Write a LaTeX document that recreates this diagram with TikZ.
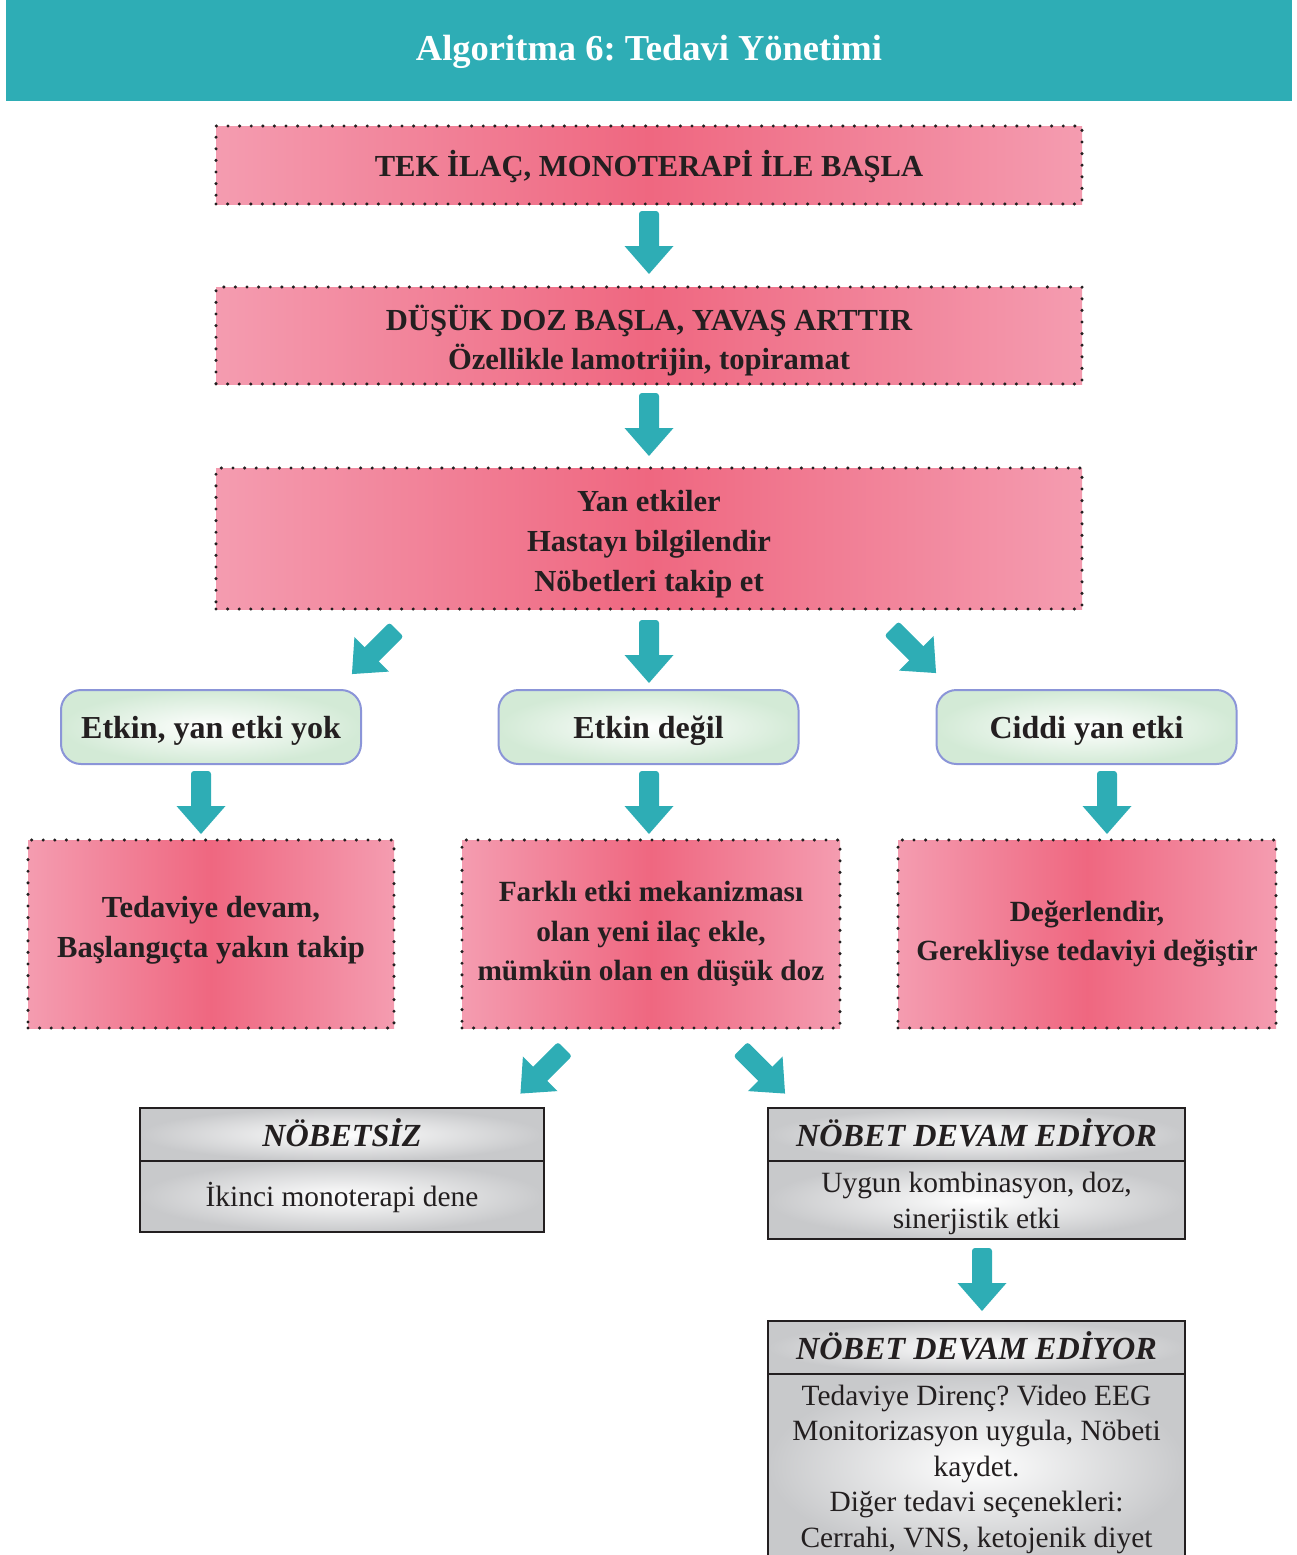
\documentclass[tikz,border=0pt]{standalone}
\usepackage{fontspec}
\setmainfont{Liberation Serif}
\frenchspacing
\definecolor{teal1}{HTML}{2EADB5}
\definecolor{pinkL}{HTML}{F49CB0}
\definecolor{pinkD}{HTML}{EF6780}
\definecolor{greenO}{HTML}{D3EAD6}
\definecolor{blueB}{HTML}{8B95D8}
\definecolor{grayO}{HTML}{C8C9CB}
\definecolor{ink}{HTML}{231F20}
\tikzset{
 pinkbox/.style={draw=ink, line width=3.4pt, dash pattern=on 0pt off 11.6pt, line cap=round,
   left color=pinkL, right color=pinkL, middle color=pinkD, inner sep=0pt},
 pinktext/.style={inner sep=0pt, align=center, text=ink, font=\bfseries\fontsize{30.6}{39.8}\selectfont},
 pinktextb/.style={pinktext, font=\bfseries\fontsize{29.3}{39.5}\selectfont},
 greenbox/.style={draw=blueB, line width=2pt, rounded corners=20pt, inner color=white,
   outer color=greenO, minimum width=300pt, minimum height=74pt, inner sep=0pt},
 greentext/.style={inner sep=0pt, text=ink, font=\bfseries\fontsize{32}{38}\selectfont},
 graybox/.style={draw=ink, line width=2.8pt, inner color=white, outer color=grayO, inner sep=0pt},
 grayhead/.style={inner sep=0pt, text=ink, font=\bfseries\itshape\fontsize{32.2}{36}\selectfont},
 graybody/.style={inner sep=0pt, text=ink, align=center, font=\fontsize{29.4}{35.5}\selectfont},
 pics/barrow/.style={code={
   \fill[teal1, rounded corners=3pt] (0,-10) rectangle (40,10);
   \fill[teal1] (35,-24.5) -- (63,0) -- (35,24.5) -- cycle;}}
}
\begin{document}
\begin{tikzpicture}[x=1pt,y=1pt]
\useasboundingbox (0,0) rectangle (1297,-1555);
\clip (0,0) rectangle (1297,-1555);
% header
\fill[teal1] (6,0) rectangle (1292,-101);
\node[text=white, inner sep=0pt, font=\bfseries\fontsize{36.5}{40}\selectfont] (title) at (649,-52) {Algoritma 6: Tedavi Yönetimi};
% pink boxes top
\node[pinkbox, minimum width=866pt, minimum height=78pt] (b1) at (649,-165) {};
\node[pinktext, yshift=-2pt] (b1t) at (b1.center) {TEK İLAÇ, MONOTERAPİ İLE BAŞLA};
\node[pinkbox, minimum width=866pt, minimum height=97pt] (b2) at (649,-335.5) {};
\node[pinktext, yshift=-5pt] (b2t) at (b2.center) {DÜŞÜK DOZ BAŞLA, YAVAŞ ARTTIR\\Özellikle lamotrijin, topiramat};
\node[pinkbox, minimum width=866pt, minimum height=141pt] (b3) at (649,-538.5) {};
\node[pinktext, yshift=-5.5pt] (b3t) at (b3.center) {Yan etkiler\\Hastayı bilgilendir\\Nöbetleri takip et};
% green boxes
\node[greenbox] (g1) at (211,-727) {};
\node[greentext, yshift=-4pt] (g1t) at (g1.center) {Etkin, yan etki yok};
\node[greenbox] (g2) at (648.5,-727) {};
\node[greentext, yshift=-4pt] (g2t) at (g2.center) {Etkin değil};
\node[greenbox] (g3) at (1086.5,-727) {};
\node[greentext, yshift=-4pt] (g3t) at (g3.center) {Ciddi yan etki};
% pink boxes lower
\node[pinkbox, minimum width=366pt, minimum height=188pt] (p1) at (211,-934) {};
\node[pinktext, yshift=3.5pt] (p1t) at (p1.center) {Tedaviye devam,\\Başlangıçta yakın takip};
\node[pinkbox, minimum width=378pt, minimum height=188pt] (p2) at (651,-934) {};
\node[pinktextb] (p2t) at (p2.center) {Farklı etki mekanizması\\olan yeni ilaç ekle,\\mümkün olan en düşük doz};
\node[pinkbox, minimum width=378pt, minimum height=188pt] (p3) at (1087,-934) {};
\node[pinktextb] (p3t) at (p3.center) {Değerlendir,\\Gerekliyse tedaviyi değiştir};
% gray boxes
\node[graybox, minimum width=404pt, minimum height=53pt] (gh1) at (342,-1134.5) {};
\node[graybox, minimum width=404pt, minimum height=71pt] (gb1) at (342,-1196.5) {};
\node[grayhead, yshift=1.5pt] (gh1t) at (gh1.center) {NÖBETSİZ};
\node[graybody, yshift=-1pt] (gb1t) at (gb1.center) {İkinci monoterapi dene};
\node[graybox, minimum width=417pt, minimum height=53pt] (gh2) at (976.5,-1134.5) {};
\node[graybox, minimum width=417pt, minimum height=78pt] (gb2) at (976.5,-1200) {};
\node[grayhead, yshift=1.5pt] (gh2t) at (gh2.center) {NÖBET DEVAM EDİYOR};
\node[graybody, yshift=-3.5pt] (gb2t) at (gb2.center) {Uygun kombinasyon, doz,\\sinerjistik etki};
\node[graybox, minimum width=417pt, minimum height=53pt] (gh3) at (976.5,-1347.5) {};
\node[graybox, minimum width=417pt, minimum height=184pt] (gb3) at (976.5,-1466) {};
\node[grayhead, yshift=1.5pt] (gh3t) at (gh3.center) {NÖBET DEVAM EDİYOR};
\node[graybody, yshift=-3pt] (gb3t) at (gb3.center) {Tedaviye Direnç? Video EEG\\Monitorizasyon uygula, Nöbeti\\kaydet.\\Diğer tedavi seçenekleri:\\Cerrahi, VNS, ketojenik diyet};
% block arrows
\pic[rotate=-90] at (649,-211) {barrow};
\pic[rotate=-90] at (649,-393) {barrow};
\pic[rotate=-135] at (396.5,-629.5) {barrow};
\pic[rotate=-90] at (649,-620) {barrow};
\pic[rotate=-45] at (891.5,-628.5) {barrow};
\pic[rotate=-90] at (201,-771) {barrow};
\pic[rotate=-90] at (649,-771) {barrow};
\pic[rotate=-90] at (1107,-771) {barrow};
\pic[rotate=-135] at (565,-1049) {barrow};
\pic[rotate=-45] at (740.5,-1049) {barrow};
\pic[rotate=-90] at (982,-1248) {barrow};
\end{tikzpicture}
\end{document}
